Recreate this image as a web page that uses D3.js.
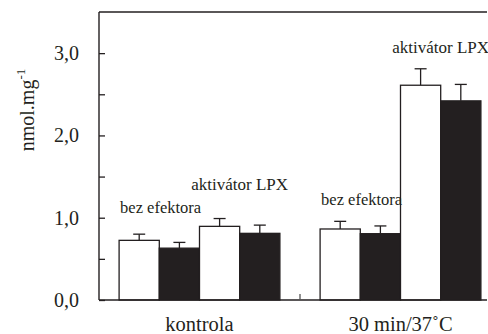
<!DOCTYPE html>
<html>
<head>
<meta charset="utf-8">
<script src="https://cdn.jsdelivr.net/npm/d3@7"></script>
<style>
  html, body { margin: 0; padding: 0; background: #fff; }
  svg { display: block; }
</style>
</head>
<body>
<svg id="chart" width="488" height="334"></svg>
<script>
// ---- data ----
const categories = ["kontrola", "30 min/37˚C"];
const series = ["bez efektora (A)", "bez efektora (B)", "aktivátor LPX (A)", "aktivátor LPX (B)"];
const seriesFill = ["#ffffff", "#231f20", "#ffffff", "#231f20"];
const valuesA_bez = [0.725, 0.863];
const valuesB_bez = [0.63, 0.806];
const valuesA_lpx = [0.895, 2.61];
const valuesB_lpx = [0.81, 2.42];
const errA_bez = [0.075, 0.093];
const errB_bez = [0.07, 0.094];
const errA_lpx = [0.095, 0.20];
const errB_lpx = [0.10, 0.20];
const yTicks = [0, 1, 2, 3];
const yMinorTicks = [0.5, 1.5, 2.5];
const yTickLabels = ["0,0", "1,0", "2,0", "3,0"];
const annotationText = ["bez efektora", "aktivátor LPX"];
const annotationLevel = [[1.057, 1.337], [1.154, 3.0]]; // per category: [bez, lpx] label level (value units)

const values = [valuesA_bez, valuesB_bez, valuesA_lpx, valuesB_lpx];
const errors = [errA_bez, errB_bez, errA_lpx, errB_lpx];

// ---- layout ----
const FONT = '"Liberation Serif"';
const svg = d3.select("#chart");
const mLeft = 99, mRight = 501, mTop = 12, mBottom = 300, plotRight = 487;

const y = d3.scaleLinear().domain([0, 3.5]).range([mBottom, mTop]);
const x0 = d3.scaleBand().domain(categories).range([mLeft, mRight]).paddingInner(0.2).paddingOuter(0.1);
const x1 = d3.scaleBand().domain(series).range([0, x0.bandwidth()]);

// bars
categories.forEach((c, ci) => {
  const g = svg.append("g").attr("transform", `translate(${x0(c)},0)`);
  series.forEach((s, si) => {
    const v = values[si][ci], e = errors[si][ci];
    const bx = x1(s), bw = x1.bandwidth(), cx = bx + bw / 2;
    g.append("line").attr("x1", cx).attr("x2", cx).attr("y1", y(v)).attr("y2", y(v + e))
      .attr("stroke", "#231f20").attr("stroke-width", 1.3);
    g.append("line").attr("x1", cx - 6).attr("x2", cx + 6).attr("y1", y(v + e)).attr("y2", y(v + e))
      .attr("stroke", "#231f20").attr("stroke-width", 1.3);
    g.append("rect").attr("x", bx).attr("y", y(v)).attr("width", bw).attr("height", y(0) - y(v))
      .attr("fill", seriesFill[si]).attr("stroke", "#231f20").attr("stroke-width", 1.3);
  });
  const bezStart = x1(series[0]);
  g.append("text").attr("x", bezStart + 1).attr("y", y(annotationLevel[ci][0]))
    .style("font-family", FONT).attr("font-size", 16.5).attr("fill", "#231f20").text(annotationText[0]);
  const lpxCenter = x1(series[2]) + x1.bandwidth();
  g.append("text").attr("x", lpxCenter).attr("y", y(annotationLevel[ci][1]))
    .style("font-family", FONT).attr("text-anchor", "middle").attr("font-size", 17).attr("fill", "#231f20").text(annotationText[1]);
});

// frame: top line, left axis, baseline
svg.append("line").attr("x1", mLeft).attr("x2", plotRight).attr("y1", y(3.5)).attr("y2", y(3.5))
  .attr("stroke", "#231f20").attr("stroke-width", 1.4);
svg.append("line").attr("x1", mLeft).attr("x2", mLeft).attr("y1", y(3.5)).attr("y2", y(0))
  .attr("stroke", "#231f20").attr("stroke-width", 1.4);
svg.append("line").attr("x1", mLeft).attr("x2", plotRight).attr("y1", y(0)).attr("y2", y(0))
  .attr("stroke", "#231f20").attr("stroke-width", 1.4);

// y ticks (inward)
const yAxis = d3.axisRight(y).tickValues(yTicks.concat(yMinorTicks)).tickSize(6).tickFormat("");
const ya = svg.append("g").attr("transform", `translate(${mLeft},0)`).call(yAxis);
ya.select(".domain").remove();
ya.selectAll(".tick line").attr("stroke", "#231f20").attr("stroke-width", 1.3);

// y tick labels
svg.selectAll("text.ylab").data(yTicks).enter().append("text").attr("class", "ylab")
  .style("font-family", FONT)
  .attr("x", 79).attr("y", d => y(d)).attr("dy", "0.35em").attr("text-anchor", "end")
  .attr("font-size", 20).attr("fill", "#231f20").text((d, i) => yTickLabels[i]);

// middle x tick between categories
const midX = (x0(categories[0]) + x0.bandwidth() + x0(categories[1])) / 2;
svg.append("line").attr("x1", midX).attr("x2", midX).attr("y1", y(0)).attr("y2", y(0) - 6)
  .attr("stroke", "#555").attr("stroke-width", 1.3);

// category labels
svg.selectAll("text.xlab").data(categories).enter().append("text").attr("class", "xlab")
  .style("font-family", FONT)
  .attr("x", d => x0(d) + x0.bandwidth() / 2).attr("y", 331).attr("text-anchor", "middle")
  .attr("font-size", 20.5).attr("fill", "#231f20").text(d => d);

// y axis title
const yt = svg.append("text").attr("transform", "rotate(-90)").attr("x", -110).attr("y", 34)
  .style("font-family", FONT)
  .attr("text-anchor", "middle").attr("font-size", 20).attr("fill", "#231f20");
yt.append("tspan").text("nmol.mg");
yt.append("tspan").attr("font-size", 13).attr("dy", -9).text("-1");
</script>
</body>
</html>
